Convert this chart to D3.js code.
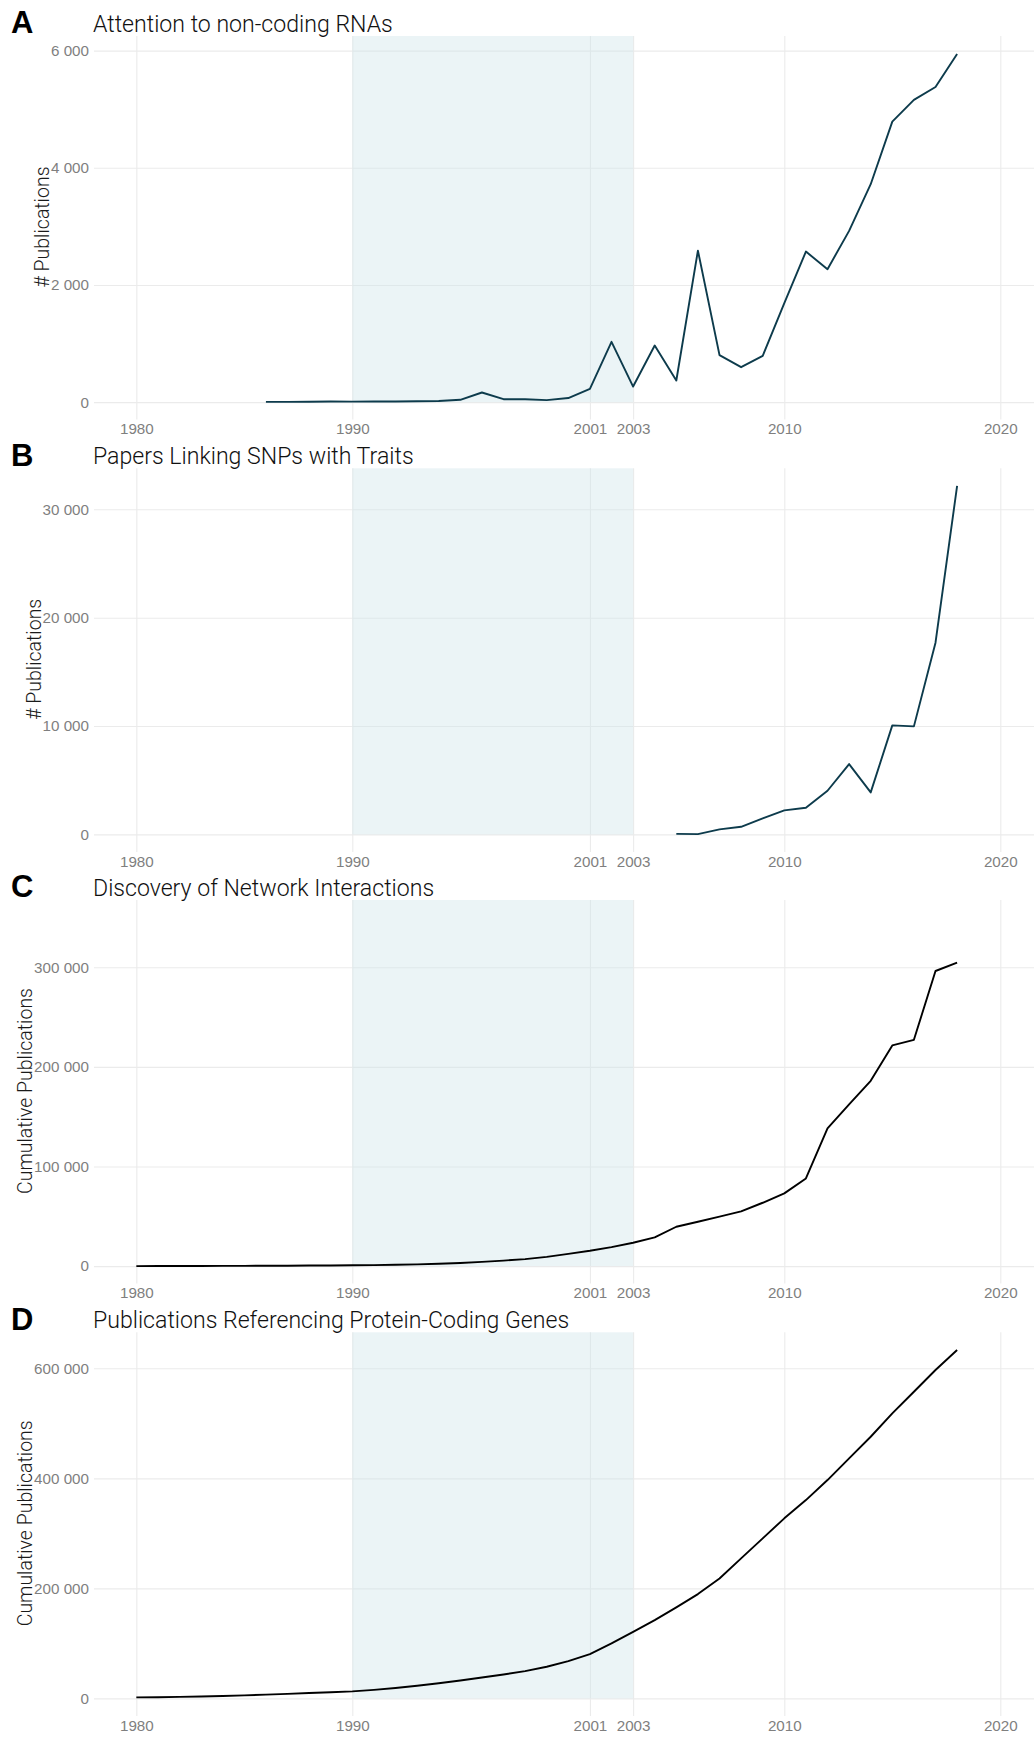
<!DOCTYPE html>
<html>
<head>
<meta charset="utf-8">
<script src="https://cdn.jsdelivr.net/npm/d3@7"></script>
<style>
  html, body { margin: 0; padding: 0; background: #ffffff; }
  svg { display: block; }
  text { font-family: Roboto, "Liberation Sans", Arial, sans-serif; font-weight: 300; }
  text.letter { font-family: "Liberation Sans", Arial, sans-serif; font-weight: bold; }
  .tick text { font-family: "Liberation Sans", Arial, sans-serif; font-weight: normal; }
</style>
</head>
<body>
<svg id="chart" width="1034" height="1737"></svg>
<script>
// ---- data ----
const yearTicks = [1980, 1990, 2001, 2003, 2010, 2020];
const shadeStart = 1990;
const shadeEnd = 2003;

const panelLetters = ["A", "B", "C", "D"];
const panelTitles = [
  "Attention to non-coding RNAs",
  "Papers Linking SNPs with Traits",
  "Discovery of Network Interactions",
  "Publications Referencing Protein-Coding Genes"
];
const yTitles = ["# Publications", "# Publications", "Cumulative Publications", "Cumulative Publications"];

const ncrnaYears = d3.range(1986, 2019);
const ncrnaValues = [5, 5, 6, 10, 8, 10, 12, 15, 20, 40, 165, 50, 50, 35, 70,
  227, 1030, 266, 966, 369, 2587, 802, 597, 790, 1690, 2570, 2270, 2923, 3720,
  4788, 5159, 5380, 5944];

const snpYears = d3.range(2005, 2019);
const snpValues = [50, 30, 460, 700, 1480, 2215, 2460, 4030, 6490, 3875, 10060,
  9970, 17690, 32160];

const networkYears = d3.range(1980, 2019);
const networkValues = [0, 50, 100, 150, 200, 260, 330, 420, 530, 650, 800, 1000,
  1300, 1700, 2300, 3100, 4200, 5500, 7000, 9300, 12300, 15400, 19000, 23400,
  28800, 39500, 44500, 49700, 54900, 63600, 73000, 88000, 138300, 162300,
  186000, 221600, 227200, 296300, 304600];

const proteinYears = d3.range(1980, 2019);
const proteinValues = [1800, 2200, 2800, 3500, 4400, 5500, 6800, 8200, 9800,
  11200, 12800, 15500, 19000, 23000, 27500, 32500, 38000, 43500, 49600, 57500,
  67800, 80500, 100000, 121000, 142300, 165400, 189600, 218000, 254500, 290900,
  327300, 360500, 396900, 436400, 475600, 518200, 557400, 596900, 633400];

const yTickValues = [
  [0, 2000, 4000, 6000],
  [0, 10000, 20000, 30000],
  [0, 100000, 200000, 300000],
  [0, 200000, 400000, 600000]
];
const yDomains = [
  [-298, 6250],
  [-1615, 33785],
  [-17576, 367590],
  [-31800, 665450]
];

// ---- layout ----
const panelTops = [36, 468.3, 900, 1332.3];
const panelHeight = 383.6;
const plotLeft = 94, plotRight = 1034;
const lineColours = ["#0d3b4c", "#0d3b4c", "#000000", "#000000"];

const series = [
  { years: ncrnaYears, values: ncrnaValues },
  { years: snpYears, values: snpValues },
  { years: networkYears, values: networkValues },
  { years: proteinYears, values: proteinValues }
];

const svg = d3.select("#chart");
const fmt = d3.formatLocale({ decimal: ".", thousands: " ", grouping: [3], currency: ["", ""] }).format(",d");

const x = d3.scaleLinear().domain([1978.04, 2021.56]).range([plotLeft, plotRight]);

series.forEach((s, i) => {
  const top = panelTops[i];
  const bottom = top + panelHeight;
  const y = d3.scaleLinear().domain(yDomains[i]).range([bottom, top]);
  const g = svg.append("g");

  // horizontal grid
  g.append("g")
    .attr("transform", `translate(${plotLeft},0)`)
    .call(d3.axisLeft(y).tickValues(yTickValues[i]).tickSize(-(plotRight - plotLeft)).tickFormat(""))
    .call(a => a.select(".domain").remove())
    .call(a => a.selectAll("line").attr("stroke", "#ebebeb").attr("stroke-width", 1.1));

  // vertical grid
  g.append("g")
    .attr("transform", `translate(0,${bottom})`)
    .call(d3.axisBottom(x).tickValues(yearTicks).tickSize(-(bottom - top)).tickFormat(""))
    .call(a => a.select(".domain").remove())
    .call(a => a.selectAll("line").attr("stroke", "#ebebeb").attr("stroke-width", 1.1));

  // highlighted period
  g.append("rect")
    .attr("x", x(shadeStart))
    .attr("width", x(shadeEnd) - x(shadeStart))
    .attr("y", top)
    .attr("height", y(0) - top)
    .attr("fill", "rgb(205,228,232)")
    .attr("fill-opacity", 0.4);

  // y tick labels
  const yAxis = g.append("g")
    .attr("transform", `translate(${plotLeft - 5},0)`)
    .call(d3.axisLeft(y).tickValues(yTickValues[i]).tickSize(0).tickPadding(0).tickFormat(fmt))
    .call(a => a.select(".domain").remove());
  yAxis.selectAll("text")
    .attr("fill", "#7f7f7f")
    .style("font-size", "15.2px");

  // x tick labels
  g.append("g")
    .attr("transform", `translate(0,${bottom + 4})`)
    .call(d3.axisBottom(x).tickValues(yearTicks).tickSize(0).tickPadding(0).tickFormat(d3.format("d")))
    .call(a => a.select(".domain").remove())
    .selectAll("text")
    .attr("fill", "#7f7f7f")
    .style("font-size", "15.2px");

  // line
  const line = d3.line()
    .x((d, k) => x(s.years[k]))
    .y(d => y(d));
  g.append("path")
    .datum(s.values)
    .attr("d", line)
    .attr("fill", "none")
    .attr("stroke", lineColours[i])
    .attr("stroke-width", 1.9)
    .attr("stroke-linejoin", "round");

  // y axis title, placed just left of the widest tick label
  let minX = Infinity;
  yAxis.selectAll("text").each(function () {
    const b = this.getBBox();
    const m = this.getCTM();
    minX = Math.min(minX, m.e + b.x);
  });
  g.append("text")
    .attr("transform", `translate(${minX - 2},${top + 366 / 2 + 8}) rotate(-90)`)
    .attr("text-anchor", "middle")
    .attr("fill", "#1a1a1a")
    .style("font-size", "19.5px")
    .text(yTitles[i]);

  // panel title
  g.append("text")
    .attr("x", 93)
    .attr("y", top - 4.5)
    .attr("fill", "#111111")
    .style("font-size", "23.1px")
    .text(panelTitles[i]);

  // panel letter
  g.append("text")
    .attr("class", "letter")
    .attr("x", 11)
    .attr("y", top - 2.7)
    .attr("fill", "#000000")
    .style("font-size", "31px")
    .text(panelLetters[i]);
});
</script>
</body>
</html>
